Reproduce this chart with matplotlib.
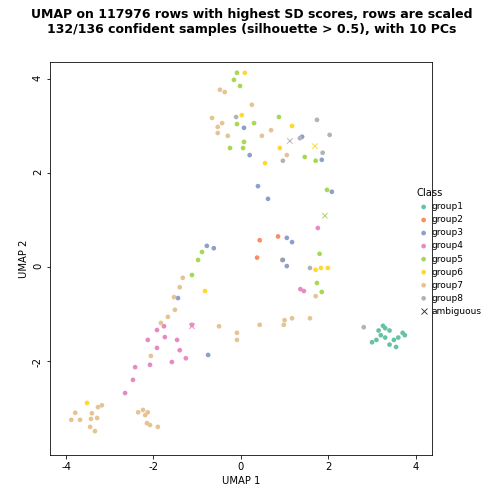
import matplotlib
matplotlib.use("Agg")
import matplotlib.pyplot as plt

plt.rcParams["axes.unicode_minus"] = False

groups = ["group1", "group2", "group3", "group4", "group5", "group6", "group7", "group8"]
colors = ["#66C2A5", "#FC8D62", "#8DA0CB", "#E78AC3", "#A6D854", "#FFD92F", "#E5C494", "#B3B3B3"]

pts = {
    "group1": [(3.3, -1.3), (3.4, -1.35), (3.2, -1.45), (3.3, -1.5), (3.1, -1.55), (3.0, -1.6), (3.5, -1.55),
               (3.6, -1.5), (3.7, -1.4), (3.75, -1.45), (3.4, -1.65), (3.55, -1.7), (3.25, -1.25), (3.15, -1.35)],
    "group2": [(0.43, 0.57), (0.85, 0.65), (0.37, 0.2), (0.95, 0.15)],
    "group3": [(-0.78, 0.45), (-0.62, 0.4), (-1.44, -0.66), (-0.75, -1.87), (0.39, 1.72), (0.62, 1.45),
               (0.2, 2.38), (1.4, 2.77), (1.05, 0.62), (1.17, 0.53), (0.96, 0.15), (1.05, 0.02),
               (0.07, 2.96), (2.08, 1.6), (1.85, 2.28)],
    "group4": [(1.76, 0.83), (1.44, -0.51), (1.36, -0.47), (-1.76, -1.26), (-1.74, -1.49), (-2.13, -1.55),
               (-1.92, -1.34), (-2.42, -2.13), (-2.47, -2.4), (-2.65, -2.68), (-2.08, -2.08), (-1.58, -2.02),
               (-1.4, -1.77), (-1.12, -1.23), (-1.92, -1.72), (-1.26, -1.94), (-1.46, -1.55)],
    "group5": [(-0.89, 0.32), (-0.98, 0.15), (-1.12, -0.17), (-0.09, 4.13), (-0.16, 3.98), (-0.02, 3.85),
               (-0.09, 3.04), (-0.25, 2.53), (0.05, 2.53), (0.3, 3.06), (0.87, 3.19), (1.46, 2.34),
               (1.71, 2.26), (1.97, 1.64), (1.8, 0.28), (1.74, -0.34), (1.85, -0.53), (0.07, 2.66)],
    "group6": [(0.09, 4.13), (0.02, 3.23), (0.55, 2.21), (0.89, 2.53), (1.17, 3.0), (1.83, -0.02),
               (1.99, -0.02), (1.71, -0.06), (-0.82, -0.51), (-3.52, -2.89)],
    "group7": [(-0.48, 3.77), (-0.37, 3.72), (-0.66, 3.17), (-0.53, 2.98), (-0.43, 3.06), (-0.53, 2.85),
               (-0.3, 2.79), (0.48, 2.79), (0.69, 2.91), (1.05, 2.38), (0.25, 3.45), (1.71, -0.62),
               (1.58, -1.09), (1.17, -1.09), (1.0, -1.13), (0.98, -1.23), (0.43, -1.23), (-0.09, -1.4),
               (-0.09, -1.55), (-0.5, -1.26), (-1.33, -0.23), (-1.4, -0.43), (-1.53, -0.64), (-1.51, -0.91),
               (-1.67, -1.06), (-1.83, -1.19), (-2.06, -1.89), (-2.15, -3.32), (-2.13, -3.09), (-2.24, -3.04),
               (-1.9, -3.4), (-2.08, -3.36), (-2.35, -3.09), (-2.19, -3.15), (-3.79, -3.1), (-3.68, -3.25),
               (-3.43, -3.23), (-3.29, -3.21), (-3.45, -3.4), (-3.34, -3.49), (-3.27, -2.98), (-3.18, -2.94),
               (-3.41, -3.11), (-3.88, -3.25)],
    "group8": [(-0.11, 3.19), (1.35, 2.74), (1.74, 3.13), (2.03, 2.81), (1.87, 2.43), (0.96, 2.26),
               (1.58, -0.02), (2.81, -1.28)],
}
ambiguous = [(1.12, 2.68), (1.69, 2.57), (1.92, 1.09), (-1.12, -1.26)]
amb_colors = ["#B3B3B3", "#FFD92F", "#A6D854", "#E78AC3"]

fig = plt.figure(figsize=(7, 7), dpi=72)
ax = fig.add_axes([0.099, 0.097, 0.758, 0.78])
for g, c in zip(groups, colors):
    xs, ys = zip(*pts[g])
    ax.scatter(xs, ys, s=22, color=c, label=g, edgecolors="none")
ax_, ay_ = zip(*ambiguous)
ax.scatter(ax_, ay_, s=30, marker="x", color=amb_colors, linewidths=0.9)
ax.scatter([], [], marker="x", color="#333333", label="ambiguous", linewidths=0.9)

ax.set_xlim(-4.37, 4.37)
ax.set_ylim(-4.0, 4.36)
ax.set_xticks([-4, -2, 0, 2, 4])
ax.set_yticks([-2, 0, 2, 4])
ax.tick_params(axis="y", labelrotation=90)
ax.set_xlabel("UMAP 1", fontsize=10)
ax.set_ylabel("UMAP 2", fontsize=10)
fig.suptitle("UMAP on 117976 rows with highest SD scores, rows are scaled\n"
             "132/136 confident samples (silhouette > 0.5), with 10 PCs",
             fontsize=12.5, fontweight="bold", y=0.985)
leg = fig.legend(loc="center left", bbox_to_anchor=(0.82, 0.5), frameon=False, title="Class",
                 fontsize=9, title_fontsize=10, handletextpad=0.1, labelspacing=0.45,
                 borderaxespad=0, handlelength=1.5)
leg._legend_box.align = "left"
fig.savefig("out.png", dpi=72)
